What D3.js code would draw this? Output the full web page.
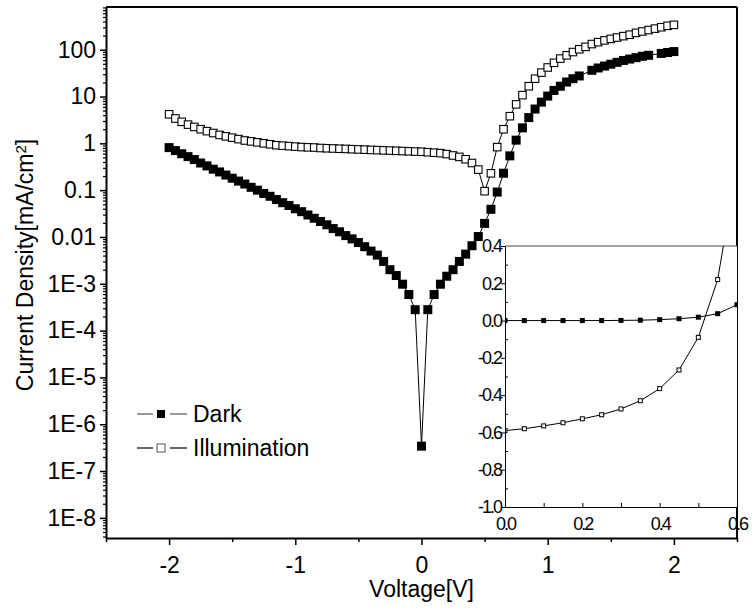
<!DOCTYPE html>
<meta charset="utf-8">
<script src="https://d3js.org/d3.v7.min.js"></script>
<style>
body { margin: 0; background: #fff; }
text { font-family: "Liberation Sans", Arial, sans-serif; fill: #000; }
.axis path, .axis line { stroke: #000; }
</style>
<body>
<script>
// sweep voltages (V)
var voltage = [-2.00,-1.95,-1.90,-1.85,-1.80,-1.75,-1.70,-1.65,-1.60,-1.55,-1.50,-1.45,-1.40,-1.35,-1.30,-1.25,-1.20,-1.15,-1.10,-1.05,
  -1.00,-0.95,-0.90,-0.85,-0.80,-0.75,-0.70,-0.65,-0.60,-0.55,-0.50,-0.45,-0.40,-0.35,-0.30,-0.25,-0.20,-0.15,-0.10,-0.05,
  0.00,0.05,0.10,0.15,0.20,0.25,0.30,0.35,0.40,0.45,0.50,0.55,0.60,0.65,0.70,0.75,0.80,0.85,0.90,0.95,
  1.00,1.05,1.10,1.15,1.20,1.25,1.30,1.35,1.40,1.45,1.50,1.55,1.60,1.65,1.70,1.75,1.80,1.85,1.90,1.95,2.00];

// |J| in mA/cm2, null = no point recorded
var darkJ = [0.81,0.70,0.60,0.52,0.45,0.38,0.33,0.28,0.245,0.21,0.18,0.156,0.135,0.115,0.10,0.085,0.074,0.063,0.054,0.047,
  0.040,0.0347,0.0295,0.0251,0.0214,0.0182,0.0151,0.0129,0.0107,0.0091,0.0076,0.0062,0.0050,0.0041,0.0030,0.0020,0.0015,0.00098,0.00059,0.00028,
  3.4e-7,0.00028,0.00059,0.00098,0.00145,0.0020,0.0030,0.0043,0.0065,0.0102,0.0195,0.039,0.091,0.23,0.54,1.17,2.14,3.55,5.4,7.6,
  10.2,13.5,16.6,20.4,24.0,27.5,null,36.3,40.7,44.7,49.0,53.7,58.9,63.1,67.6,72.4,75.9,null,83.2,87.1,91.2];

var lightJ = [4.17,3.39,2.88,2.51,2.24,2.00,1.82,1.66,1.51,1.41,1.32,1.23,1.15,1.10,1.05,1.00,0.955,0.912,0.891,0.871,
  0.851,0.832,0.822,0.813,0.794,0.785,0.776,0.767,0.759,0.750,0.741,0.733,0.724,0.716,0.708,0.700,0.692,0.684,0.676,0.668,
  0.661,0.646,0.631,0.617,0.589,0.550,0.513,0.457,0.380,0.275,0.095,0.229,0.83,2.0,3.8,6.8,10.7,16.6,24.0,32.4,
  41.7,52.5,64.6,75.9,89.1,102,115,132,145,158,170,182,195,209,229,245,263,282,302,324,339];

var yTickValues = [100,10,1,0.1,0.01,1e-3,1e-4,1e-5,1e-6,1e-7,1e-8];
var yTickLabels = ["100","10","1","0.1","0.01","1E-3","1E-4","1E-5","1E-6","1E-7","1E-8"];
var xTickValues = [-2,-1,0,1,2];
var xMinorTicks = [-2.5,-1.5,-0.5,0.5,1.5,2.5];

// inset: linear J (mA/cm2) for 0 .. 0.6 V
var insetV = [0,0.05,0.10,0.15,0.20,0.25,0.30,0.35,0.40,0.45,0.50,0.55,0.60];
var insetDark = [0,0,0,0,0,0,0.001,0.002,0.005,0.010,0.018,0.037,0.085];
var insetLight = [-0.59,-0.58,-0.565,-0.548,-0.527,-0.505,-0.474,-0.43,-0.365,-0.265,-0.09,0.22,0.83];
var insetYTicks = [0.4,0.2,0,-0.2,-0.4,-0.6,-0.8,-1.0];
var insetYLabels = ["0.4","0.2","0.0","-0.2","-0.4","-0.6","-0.8","-1.0"];
var insetYMinor = [0.3,0.1,-0.1,-0.3,-0.5,-0.7,-0.9];
var insetXTicks = [0,0.2,0.4,0.6];
var insetXLabels = ["0.0","0.2","0.4","0.6"];
var insetXMinor = [0.1,0.3,0.5];

var W = 753, H = 614;
var pL = 106, pR = 737, pT = 7, pB = 538;
var fs = "23px";

var svg = d3.select("body").append("svg")
    .attr("width", W).attr("height", H);

var x = d3.scaleLinear().domain([-2.5, 2.5]).range([pL, pR]);
var y = d3.scaleLog().domain([Math.pow(10, -8.43), Math.pow(10, 2.912)]).range([pB, pT]);

var dark = voltage.map(function(v, i) { return {v: v, j: darkJ[i]}; })
    .filter(function(d) { return d.j !== null; });
var light = voltage.map(function(v, i) { return {v: v, j: lightJ[i]}; });

// frame (top + right)
svg.append("line").attr("x1", pL).attr("x2", pR).attr("y1", pT).attr("y2", pT)
    .attr("stroke", "#000").attr("stroke-width", 2);
svg.append("line").attr("x1", pR).attr("x2", pR).attr("y1", pT).attr("y2", pB)
    .attr("stroke", "#000").attr("stroke-width", 2);

// minor log ticks
var minor = [];
for (var e = -9; e <= 2; e++) {
  for (var k = 2; k <= 9; k++) {
    var val = k * Math.pow(10, e);
    if (val > y.domain()[0] && val < y.domain()[1]) minor.push(val);
  }
}
svg.append("g").attr("class", "axis")
    .attr("transform", "translate(" + pL + ",0)")
    .call(d3.axisLeft(y).tickValues(minor).tickSize(3).tickSizeOuter(0).tickFormat(""))
    .call(function(g) { g.select(".domain").remove(); })
    .selectAll("line").attr("stroke-width", 1.2);

var yAxis = svg.append("g").attr("class", "axis")
    .attr("transform", "translate(" + pL + ",0)")
    .call(d3.axisLeft(y).tickValues(yTickValues).tickSize(6).tickSizeOuter(0).tickPadding(4)
      .tickFormat(function(d, i) { return yTickLabels[i]; }));
yAxis.select(".domain").attr("stroke-width", 2);
yAxis.selectAll("line").attr("stroke-width", 1.5);
yAxis.selectAll("text").style("font-size", fs);

// x axis
svg.append("g").attr("class", "axis")
    .attr("transform", "translate(0," + pB + ")")
    .call(d3.axisBottom(x).tickValues(xMinorTicks).tickSize(4).tickSizeOuter(0).tickFormat(""))
    .call(function(g) { g.select(".domain").remove(); })
    .selectAll("line").attr("stroke-width", 1.5);

var xAxis = svg.append("g").attr("class", "axis")
    .attr("transform", "translate(0," + pB + ")")
    .call(d3.axisBottom(x).tickValues(xTickValues).tickSize(7).tickSizeOuter(0).tickPadding(12)
      .tickFormat(function(d) { return d; }));
xAxis.select(".domain").attr("stroke-width", 2);
xAxis.selectAll("line").attr("stroke-width", 1.5);
xAxis.selectAll("text").style("font-size", fs);

// titles
svg.append("text")
    .attr("x", x(0)).attr("y", 597)
    .attr("text-anchor", "middle")
    .style("font-size", fs)
    .text("Voltage[V]");

var yt = svg.append("text")
    .attr("transform", "translate(33,265) rotate(-90)")
    .attr("text-anchor", "middle")
    .style("font-size", fs);
yt.append("tspan").text("Current Density[mA/cm");
yt.append("tspan").attr("dy", "-0.45em").style("font-size", "15px").text("2");
yt.append("tspan").attr("dy", "0.3em").text("]");

// main curves
var line = d3.line().x(function(d) { return x(d.v); }).y(function(d) { return y(d.j); });
svg.append("path").datum(dark).attr("d", line)
    .attr("fill", "none").attr("stroke", "#000").attr("stroke-width", 1);
svg.append("path").datum(light).attr("d", line)
    .attr("fill", "none").attr("stroke", "#000").attr("stroke-width", 1);

var ms = 9;
svg.append("g").selectAll("rect").data(dark).enter().append("rect")
    .attr("x", function(d) { return x(d.v) - ms / 2; })
    .attr("y", function(d) { return y(d.j) - ms / 2; })
    .attr("width", ms).attr("height", ms)
    .attr("fill", "#000");
var os = 7.5;
svg.append("g").selectAll("rect").data(light).enter().append("rect")
    .attr("x", function(d) { return x(d.v) - os / 2; })
    .attr("y", function(d) { return y(d.j) - os / 2; })
    .attr("width", os).attr("height", os)
    .attr("fill", "#fff").attr("stroke", "#000").attr("stroke-width", 1.1);

// legend
var legend = [{name: "Dark", filled: true, y: 414}, {name: "Illumination", filled: false, y: 448}];
legend.forEach(function(l) {
  svg.append("line").attr("x1", 137).attr("x2", 153).attr("y1", l.y).attr("y2", l.y)
      .attr("stroke", l.filled ? "#555" : "#000").attr("stroke-width", 1.2);
  svg.append("line").attr("x1", 170).attr("x2", 187).attr("y1", l.y).attr("y2", l.y)
      .attr("stroke", l.filled ? "#555" : "#000").attr("stroke-width", 1.2);
  svg.append("rect").attr("x", 157).attr("y", l.y - 4).attr("width", 8).attr("height", 8)
      .attr("fill", l.filled ? "#000" : "#fff").attr("stroke", l.filled ? "none" : "#555");
  svg.append("text").attr("x", 193).attr("y", l.y).attr("dy", "0.36em")
      .style("font-size", fs).text(l.name);
});

// inset
var iL = 505, iR = 737, iT = 246, iB = 507;
var ix = d3.scaleLinear().domain([0, 0.6]).range([iL, iR]);
var iy = d3.scaleLinear().domain([-1, 0.4]).range([iB, iT]);

svg.append("rect").attr("x", iL).attr("y", iT).attr("width", iR - iL).attr("height", iB - iT)
    .attr("fill", "#fff");
svg.append("clipPath").attr("id", "insetClip").append("rect")
    .attr("x", iL).attr("y", iT).attr("width", iR - iL).attr("height", iB - iT);

svg.append("line").attr("x1", iL).attr("x2", iR).attr("y1", iT).attr("y2", iT)
    .attr("stroke", "#444").attr("stroke-width", 1);

var iDark = insetV.map(function(v, i) { return {v: v, j: insetDark[i]}; });
var iLight = insetV.map(function(v, i) { return {v: v, j: insetLight[i]}; });
var iline = d3.line().x(function(d) { return ix(d.v); }).y(function(d) { return iy(d.j); });
var ig = svg.append("g").attr("clip-path", "url(#insetClip)");
ig.append("path").datum(iDark).attr("d", iline)
    .attr("fill", "none").attr("stroke", "#000").attr("stroke-width", 1);
ig.append("path").datum(iLight).attr("d", iline)
    .attr("fill", "none").attr("stroke", "#000").attr("stroke-width", 1);
var ims = 5;
ig.selectAll(".idk").data(iDark).enter().append("rect")
    .attr("x", function(d) { return ix(d.v) - ims / 2; })
    .attr("y", function(d) { return iy(d.j) - ims / 2; })
    .attr("width", ims).attr("height", ims).attr("fill", "#000");
ig.selectAll(".ilt").data(iLight).enter().append("rect")
    .attr("x", function(d) { return ix(d.v) - (ims - 1) / 2; })
    .attr("y", function(d) { return iy(d.j) - (ims - 1) / 2; })
    .attr("width", ims - 1).attr("height", ims - 1)
    .attr("fill", "#fff").attr("stroke", "#000").attr("stroke-width", 1);

svg.append("g").attr("class", "axis")
    .attr("transform", "translate(" + iL + ",0)")
    .call(d3.axisLeft(iy).tickValues(insetYMinor).tickSize(-3).tickFormat(""))
    .call(function(g) { g.select(".domain").remove(); });
var iyAxis = svg.append("g").attr("class", "axis")
    .attr("transform", "translate(" + iL + ",0)")
    .call(d3.axisLeft(iy).tickValues(insetYTicks).tickSize(4).tickSizeOuter(0).tickPadding(0)
      .tickFormat(function(d, i) { return insetYLabels[i]; }));
iyAxis.selectAll("text").style("font-size", "18px").style("letter-spacing", "-2px");

svg.append("g").attr("class", "axis")
    .attr("transform", "translate(0," + iB + ")")
    .call(d3.axisBottom(ix).tickValues(insetXMinor).tickSize(-4).tickFormat(""))
    .call(function(g) { g.select(".domain").remove(); });
var ixAxis = svg.append("g").attr("class", "axis")
    .attr("transform", "translate(0," + iB + ")")
    .call(d3.axisBottom(ix).tickValues(insetXTicks).tickSize(-4).tickSizeOuter(0).tickPadding(10)
      .tickFormat(function(d, i) { return insetXLabels[i]; }));
ixAxis.selectAll("text").style("font-size", "18px").style("letter-spacing", "-2px");
</script>
</body>
